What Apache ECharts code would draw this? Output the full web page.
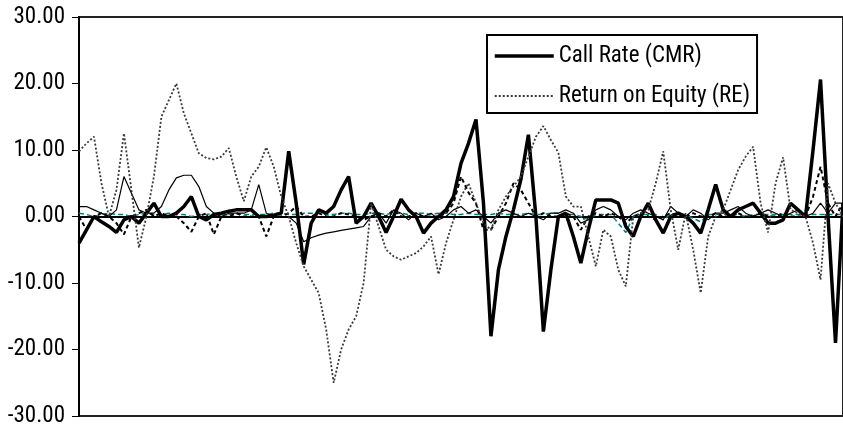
<!DOCTYPE html>
<html>
<head>
<meta charset="utf-8">
<script src="https://cdn.jsdelivr.net/npm/echarts@6/dist/echarts.min.js"></script>
<style>html,body{margin:0;padding:0;background:#fff;}#c{width:843px;height:428px;}</style>
</head>
<body>
<div id="c"></div>
<script>
// Call Rate (CMR) - thick black
var cmr = [-4, -2, 0, -0.8, -1.5, -2.4, -0.5, 0, -1, 0.5,
 2, 0, 0, 0.5, 1.5, 3, 0, -0.5, 0.3, 0.5,
 0.8, 1, 1, 1, 0, 0, 0.2, 0.5, 9.8, 2,
 -7.2, -1, 1, 0.5, 1.5, 4, 6, -1, 0, 2,
 0, -2.4, 0, 2.6, 1, 0, -2.5, -1, 0, 1,
 3, 8, 11, 14.6, 2, -18, -8, -3, 1, 5.6,
 12.3, 0, -17.3, -8, 0, 0.5, -3, -7, -2, 2.5,
 2.5, 2.5, 2, -1.5, -3, 0, 2, -0.5, -2.5, 0,
 0.5, 0, -1, -2.5, 1, 4.8, 1, 0, 1, 1.5,
 2, 0.5, -1, -1, -0.5, 2, 1, 0, 10, 20.6,
 0, -19, 2];
// Return on Equity (RE) - dotted
var re = [9.8, 11, 12, 5, 0, 4, 12.5, 4, -4.7, 0,
 6, 15, 17.5, 20, 15.5, 12.5, 9.5, 8.8, 8.6, 9,
 10.3, 6, 2.3, 6, 7.5, 10.4, 7.5, 3, 0, -4,
 -7.5, -9.5, -11.5, -17, -25, -20, -17, -15, -10, 2,
 -1.5, -5, -6, -6.5, -6, -5.5, -4.5, -3, -8.7, -4,
 -0.5, 3, 5, 2, -1, -2, 1, 3, 4.5, 6,
 9, 12, 13.6, 11.5, 9.6, 3, 1.5, 1.5, -3, -7.5,
 -2, -3, -8, -10.5, 0, 0.5, 1, 5, 9.8, 1,
 -5, 0.5, -5, -11.5, -3, 0, 1, 4, 7, 9,
 10.5, 2, -2.4, 5, 8.9, 1, 0.5, 0, -4, -9.5,
 5, 2, 0];
// unlabelled thin black series
var thinSeries = [1.5, 1.5, 1, 0.5, 0, 1, 6, 3.5, 1, 0.5,
 0.5, 1.5, 4, 5.8, 6.2, 6.2, 4.5, 1.5, 0.5, 0,
 0.5, 0.5, 0.5, 1, 4.8, 0.5, 0, 0, 0, -1,
 -3.8, -3.2, -2.8, -2.5, -2.3, -2.1, -1.9, -1.7, -1.5, 0,
 0.5, -1, 1, 0.5, -0.5, 0.5, 0, 0.5, -0.5, 0,
 1, 1.5, 0.5, 1, 0, -1, 0.5, 1, 0.5, 0,
 0.5, 0, -0.5, 0.5, 0.5, 1, 0.5, -1, -0.5, 1,
 1.5, 1, 0, -0.5, 0.5, 1, 0.5, 0, -0.5, 1.5,
 0.5, 0, 1, 0.5, -0.5, 0.5, 0.5, 1, 1.5, 0.5,
 0, 0.5, 1, 0.5, 0, 0.5, 1, 0, 0.5, 2,
 0.5, 2, 2];
// unlabelled dashed black series
var dashSeries = [0, -2, 0, 0.5, 0, -1, -2.7, 0, 0.5, 1,
 0, 0.5, 0, 0, -1, -2.3, 0, 0.5, -2.7, 0,
 0, 0.5, 0, 0, 0, -3, 0, 0, 0.5, 1.5,
 0, 0, 0.5, 0, 0, 0.5, 0.3, 0, -0.5, 0,
 0.5, 0, 1, 0, 0, 0.5, 0, 0, 0, 0.5,
 2, 6, 3.6, 2, -2, -2, 0, 2, 5, 4,
 2, 0, 0.5, 0, 0, 0.5, 0, -2, 0, 0.5,
 0, 0.5, 0, -1, 0, 0.5, 0, -0.5, 0, 0.5,
 0, 0, 0.5, 0, 0, 0.5, 0, 0, 0.5, 0,
 0, 0.5, 0, 0, 0.5, 0, 0, 0, 3, 7.5,
 2, 0, 2];
// unlabelled teal dashed series
var tealSeries = [0.5, 0.3, 0, 0.3, 0.5, 0.3, 0.3, 0, 0.3, 0.5,
 0.3, 0.3, 0.5, 0.3, 0.3, 0, 0.3, 0.3, 0.5, 0.3,
 0.3, 0.5, 0.3, 0.3, 0.3, 0.3, 0.5, 0.5, 0.3, 0.3,
 0.5, 0.5, 0.5, 0.3, 0.3, 0.5, 0.5, 0.3, 0.3, 0.5,
 0.5, 0.3, 0.5, 0.5, 0.3, 0.5, 0.5, 0.3, 0.5, 0.5,
 0.3, 0.3, 0.5, 0.3, 0.3, 0.3, 0.5, 0.3, 0.3, 0.3,
 0.5, 0.3, 0.3, 0.5, 0.5, 0.3, 0.3, 0, -0.5, 0.3,
 0.3, 0.3, -1, -2.4, 0, 0.3, 0.3, 0.3, -0.5, 0.3,
 0.3, 0.3, -0.3, -0.8, 0.3, 0.3, 0.3, 0.3, 0.3, 0,
 0.3, 0.3, 0.3, 0.3, 0.3, 0.3, 0.3, 0.3, 0.3, 0.3,
 0.3, 0.3, 0.3];
var periods = cmr.map(function (_, i) { return String(i + 1); });
var yTicks = [-30, -20, -10, 0, 10, 20, 30];

var FONT = "'Roboto Condensed', 'DejaVu Sans Condensed', sans-serif";
var chart = echarts.init(document.getElementById('c'), null, {renderer: 'canvas'});
chart.setOption({
  animation: false,
  backgroundColor: '#fff',
  grid: {left: 79, right: -3, top: 17, bottom: 12, show: true, borderColor: '#222', borderWidth: 2, backgroundColor: 'transparent'},
  legend: {
    data: [
      {name: 'Call Rate (CMR)', lineStyle: {width: 3.5}},
      {name: 'Return on Equity (RE)', lineStyle: {width: 1.8}}
    ],
    orient: 'vertical', left: 487, top: 35,
    padding: [8, 7, 4, 6], itemGap: 14, itemWidth: 59, itemHeight: 4, itemTextGap: 4,
    itemStyle: {opacity: 0},
    borderColor: '#000', borderWidth: 2, backgroundColor: '#fff',
    textStyle: {fontFamily: FONT, fontSize: 23, color: '#000', lineHeight: 26}
  },
  xAxis: {
    type: 'category', data: periods, boundaryGap: false,
    axisLine: {onZero: true, lineStyle: {color: '#000', width: 2}},
    axisTick: {show: false}, axisLabel: {show: false}, splitLine: {show: false}
  },
  yAxis: {
    type: 'value', min: yTicks[0], max: yTicks[yTicks.length - 1], interval: 10,
    axisLine: {show: true, lineStyle: {color: '#000', width: 2}},
    axisTick: {show: true, length: 7, lineStyle: {color: '#000', width: 1}},
    axisLabel: {margin: 14, color: '#000', fontFamily: FONT, fontSize: 23, formatter: function (v) { return v.toFixed(2); }},
    splitLine: {show: false}
  },
  series: [
    {name: 'S5', type: 'line', data: tealSeries, symbol: 'none', lineStyle: {color: '#008080', width: 1.5, type: [5, 3]}, z: 2},
    {name: 'S4', type: 'line', data: dashSeries, symbol: 'none', lineStyle: {color: '#000', width: 2, type: [4, 3]}, z: 2},
    {name: 'S3', type: 'line', data: thinSeries, symbol: 'none', lineStyle: {color: '#000', width: 1.2}, z: 2},
    {name: 'Call Rate (CMR)', type: 'line', data: cmr, symbol: 'none', itemStyle: {color: '#000'}, lineStyle: {color: '#000', width: 3.5}, z: 3},
    {name: 'Return on Equity (RE)', type: 'line', data: re, symbol: 'none', itemStyle: {color: '#3a3a3a'}, lineStyle: {color: '#3a3a3a', width: 1.8, type: [2, 2]}, z: 4}
  ]
});
</script>
</body>
</html>
